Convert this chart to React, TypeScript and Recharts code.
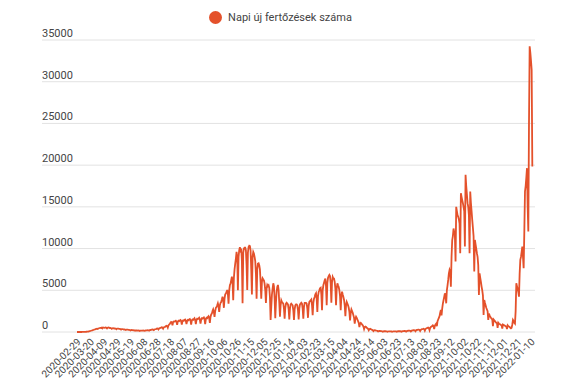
import React from 'react';
import { LineChart, Line, XAxis, YAxis, CartesianGrid, Legend } from 'recharts';

const seriesName = 'Napi új fertőzések száma';

const tickLabels = [
  '2020-02-29', '2020-03-20', '2020-04-09', '2020-04-29', '2020-05-19', '2020-06-08',
  '2020-06-28', '2020-07-18', '2020-08-07', '2020-08-27', '2020-09-16', '2020-10-06',
  '2020-10-26', '2020-11-15', '2020-12-05', '2020-12-25', '2021-01-14', '2021-02-03',
  '2021-02-23', '2021-03-15', '2021-04-04', '2021-04-24', '2021-05-14', '2021-06-03',
  '2021-06-23', '2021-07-13', '2021-08-03', '2021-08-23', '2021-09-12', '2021-10-02',
  '2021-10-22', '2021-11-11', '2021-12-01', '2021-12-21', '2022-01-10',
];

const yTicks = [0, 5000, 10000, 15000, 20000, 25000, 30000, 35000];

const dailyCases = [
  0, 0, 0, 0, 0, 0, 1,
  2, 3, 5, 8, 10, 15, 20,
  30, 40, 50, 60, 80, 100, 120,
  150, 180, 200, 240, 260, 300, 320,
  350, 380, 400, 360, 420, 450, 480,
  500, 480, 520, 430, 540, 520, 500,
  520, 550, 500, 420, 510, 540, 520,
  480, 500, 460, 380, 450, 470, 440,
  420, 430, 400, 330, 400, 410, 390,
  370, 380, 350, 290, 340, 350, 330,
  300, 310, 290, 240, 280, 290, 270,
  250, 260, 240, 190, 230, 240, 220,
  200, 210, 190, 150, 180, 190, 180,
  170, 180, 170, 130, 160, 170, 160,
  170, 180, 170, 140, 170, 180, 190,
  200, 220, 210, 160, 220, 240, 250,
  280, 300, 280, 220, 300, 330, 350,
  380, 420, 400, 300, 420, 460, 480,
  520, 560, 540, 400, 560, 600, 620,
  680, 740, 700, 520, 800, 900, 980,
  1100, 1200, 1150, 800, 1200, 1260, 1250,
  1300, 1350, 1250, 850, 1250, 1350, 1300,
  1400, 1450, 1300, 900, 1300, 1400, 1350,
  1450, 1500, 1350, 950, 1350, 1450, 1400,
  1500, 1550, 1400, 900, 1400, 1500, 1450,
  1550, 1650, 1450, 950, 1450, 1600, 1550,
  1600, 1700, 1500, 1000, 1500, 1650, 1600,
  1700, 1750, 1550, 950, 1550, 1700, 1650,
  1800, 1900, 1700, 1100, 1800, 2100, 2200,
  2500, 2700, 2400, 1800, 2500, 2900, 3000,
  3200, 3440, 3100, 2400, 3200, 3500, 3600,
  3900, 4240, 3900, 2900, 4000, 4500, 4600,
  4800, 5040, 4600, 3400, 5000, 5600, 5800,
  6200, 6640, 6000, 3800, 6500, 7500, 8200,
  8800, 9600, 9000, 5000, 9000, 9800, 10150,
  9800, 10000, 8500, 3440, 9500, 10000, 10100,
  10100, 9800, 8000, 5040, 9500, 10200, 10350,
  10300, 9800, 7500, 4500, 9000, 9600, 9400,
  9000, 8500, 7000, 4000, 7500, 8200, 8240,
  8000, 7500, 6000, 4000, 6000, 6440, 6300,
  6200, 5800, 5000, 3480, 5200, 5640, 5500,
  5600, 5300, 4200, 1440, 3000, 4500, 5200,
  5840, 5500, 4000, 1640, 3500, 4800, 5400,
  5640, 5000, 3500, 1840, 3200, 3800, 3600,
  3500, 3400, 2800, 1600, 2900, 3400, 3500,
  3400, 3300, 2700, 1500, 2800, 3300, 3400,
  3300, 3200, 2600, 1450, 2700, 3200, 3300,
  3300, 3200, 2600, 1500, 2800, 3300, 3400,
  3500, 3400, 2800, 1600, 3000, 3500, 3500,
  3500, 3400, 2800, 1700, 3100, 3600, 3700,
  3800, 3900, 3200, 2000, 3500, 4000, 4200,
  4500, 4640, 4000, 2400, 4300, 4800, 5000,
  5240, 5300, 4500, 2600, 5000, 5600, 5900,
  6200, 6400, 5500, 3200, 5900, 6500, 6700,
  6840, 6700, 5800, 3500, 6000, 6600, 6400,
  6400, 6000, 5200, 3200, 5200, 5840, 5600,
  5400, 5000, 4300, 2600, 4300, 4840, 4500,
  4200, 3840, 3200, 1900, 3200, 3600, 3400,
  3200, 2900, 2400, 1400, 2300, 2700, 2500,
  2300, 2000, 1700, 1000, 1600, 1840, 1700,
  1500, 1300, 1100, 600, 1000, 1100, 1000,
  900, 800, 650, 350, 600, 650, 600,
  500, 450, 380, 200, 340, 380, 340,
  300, 260, 220, 110, 190, 210, 190,
  170, 150, 130, 70, 110, 130, 120,
  110, 100, 90, 40, 80, 100, 90,
  90, 80, 70, 30, 60, 80, 80,
  80, 70, 60, 30, 60, 80, 80,
  80, 80, 70, 30, 70, 90, 90,
  90, 90, 80, 40, 80, 100, 110,
  120, 120, 100, 50, 110, 140, 150,
  160, 170, 140, 70, 150, 180, 190,
  210, 220, 190, 90, 200, 240, 250,
  270, 290, 250, 120, 260, 310, 330,
  360, 390, 340, 160, 360, 430, 460,
  500, 540, 470, 220, 500, 600, 650,
  720, 800, 700, 350, 750, 900, 1000,
  700, 1300, 1500, 1700, 1900, 2300, 2640,
  2000, 2800, 3400, 3800, 4200, 4640, 4400,
  3440, 5000, 5600, 6240, 7040, 7440, 7200,
  5440, 9000, 11000, 11500, 12400, 12000, 11600,
  8440, 15000, 14500, 14000, 13800, 13500, 13000,
  9440, 16640, 16200, 15800, 15440, 15000, 14500,
  10240, 18840, 17500, 16500, 15440, 15000, 14000,
  9440, 16840, 15500, 14500, 13440, 12500, 11500,
  7240, 11040, 10500, 10000, 9440, 9000, 8000,
  4440, 7040, 6500, 6000, 5440, 5000, 4400,
  2040, 3840, 3500, 3200, 2900, 2700, 2500,
  1440, 2200, 2000, 1840, 1700, 1600, 1500,
  700, 1500, 1400, 1300, 1200, 1100, 1050,
  500, 1100, 1000, 950, 900, 850, 800,
  400, 900, 850, 800, 750, 700, 650,
  350, 800, 700, 650, 600, 500, 440,
  500, 900, 1440, 1300, 1100, 1000, 2500,
  5840, 5500, 5200, 4800, 4240, 7000, 8640,
  9000, 9600, 10240, 9000, 7640, 12000, 16840,
  17500, 18500, 19640, 15000, 12040, 25000, 34240,
  33500, 32500, 31440, 19840,
];

const LINE_COLOR = '#e4512b';
const TEXT_COLOR = '#444444';
const FONT = 'Roboto, "Noto Sans", sans-serif';
const TICK_STEP = 20;
const PLOT_LEFT = 42;

const data = dailyCases.map((v, i) => ({ i, v }));
const xTicks = tickLabels.map((_, k) => k * TICK_STEP);

const XTick = (props: any) => {
  const { x, y, payload } = props;
  const label = tickLabels[Math.round(payload.value / TICK_STEP)];
  const ax = x + 2;
  const ay = y;
  return (
    <text
      x={ax}
      y={ay}
      transform={`rotate(-45 ${ax} ${ay})`}
      textAnchor="end"
      dominantBaseline="central"
      fontSize={10}
      fontFamily={FONT}
      fill={TEXT_COLOR}
    >
      {label}
    </text>
  );
};

const YTick = (props: any) => {
  const { y, payload } = props;
  return (
    <text x={PLOT_LEFT} y={y - 3} textAnchor="start" fontSize={11} fontFamily={FONT} fill={TEXT_COLOR}>
      {payload.value}
    </text>
  );
};

const LegendContent = () => (
  <div
    style={{
      display: 'flex',
      justifyContent: 'center',
      alignItems: 'center',
      fontFamily: FONT,
      fontSize: 11,
      color: TEXT_COLOR,
      height: 14,
    }}
  >
    <svg width={13} height={13} style={{ display: 'block' }}>
      <circle cx={6.5} cy={6.5} r={6.5} fill={LINE_COLOR} />
    </svg>
    <span style={{ marginLeft: 6 }}>{seriesName}</span>
  </div>
);

export default function App() {
  return (
    <div style={{ position: 'absolute', left: 0, top: 0, width: 576, height: 385, background: '#fff' }}>
      <LineChart
        width={576}
        height={385}
        data={data}
        margin={{ top: 40, right: 41, left: PLOT_LEFT - 1, bottom: 3 }}
      >
        <CartesianGrid vertical={false} stroke="#e2e2e2" strokeWidth={1} />
        <XAxis
          type="number"
          dataKey="i"
          domain={[-52.4, 686]}
          allowDataOverflow
          ticks={xTicks}
          interval={0}
          tickLine={false}
          axisLine={false}
          height={50}
          tick={<XTick />}
        />
        <YAxis
          type="number"
          domain={[0, 35000]}
          ticks={yTicks}
          interval={0}
          width={1}
          tickLine={false}
          axisLine={false}
          tick={<YTick />}
        />
        <Legend
          verticalAlign="middle"
          align="center"
          layout="horizontal"
          wrapperStyle={{ top: 10, left: PLOT_LEFT - 8, width: 493 }}
          content={<LegendContent />}
        />
        <Line
          type="linear"
          dataKey="v"
          name={seriesName}
          stroke={LINE_COLOR}
          strokeWidth={1.8}
          dot={false}
          isAnimationActive={false}
        />
      </LineChart>
    </div>
  );
}
